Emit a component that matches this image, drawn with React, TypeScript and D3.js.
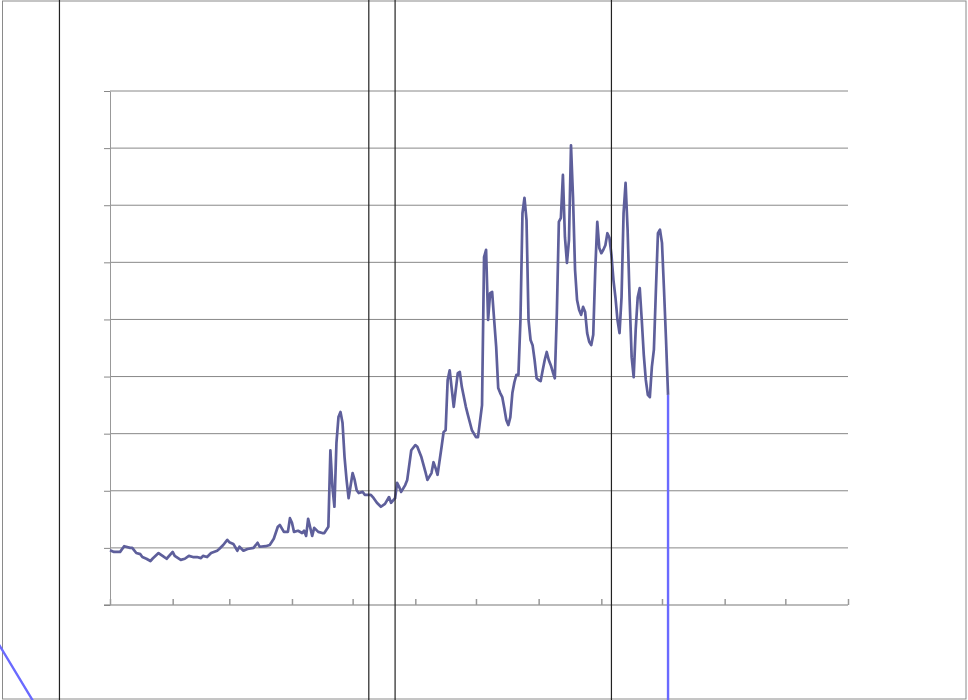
import React, { useEffect, useRef } from 'react';
import * as d3 from 'd3';

// day-of-year offsets (from Jan 1) and readings for the main series
const days = [
  0, 2, 5, 7, 10, 11, 13, 15, 16, 18, 20, 21, 24, 26, 28, 31, 32, 35, 37, 39,
  41, 43, 45, 46, 48, 50, 53, 54, 56, 58, 59, 61, 63, 64, 66, 68, 71, 73, 74, 77,
  79, 81, 83, 84, 86, 88, 89, 90, 91, 93, 95, 96, 97, 98, 100, 101, 103, 105, 106, 108,
  109, 110, 111, 112, 113, 114, 115, 116, 117, 118, 120, 121, 122, 123, 125, 126, 129, 130, 132, 134,
  136, 138, 139, 141, 142, 143, 144, 146, 147, 149, 151, 152, 154, 156, 157, 159, 160, 161, 162, 164,
  165, 166, 167, 168, 170, 172, 173, 174, 176, 177, 179, 181, 182, 184, 185, 186, 187, 188, 189, 190,
  191, 192, 193, 194, 195, 196, 197, 198, 199, 200, 201, 202, 203, 204, 205, 206, 207, 208, 209, 210,
  211, 212, 213, 214, 215, 216, 217, 218, 219, 220, 221, 222, 223, 224, 225, 226, 227, 228, 229, 230,
  231, 232, 233, 234, 235, 236, 237, 238, 239, 240, 241, 242, 243, 244, 245, 246, 247, 248, 249, 250,
  251, 252, 253, 254, 255, 256, 257, 258, 259, 260, 261, 262, 263, 264, 265, 266, 267, 268, 269, 270,
  271, 272, 273, 274, 275, 276,
];
const values = [
  9.6, 9.3, 9.3, 10.3, 10.0, 10.0, 9.1, 8.9, 8.4, 8.1, 7.7, 8.1, 9.1, 8.6, 8.1, 9.3, 8.6, 7.9, 8.1, 8.6,
  8.4, 8.4, 8.2, 8.6, 8.4, 9.1, 9.5, 9.8, 10.5, 11.4, 11.0, 10.7, 9.5, 10.2, 9.5, 9.8, 10.0, 10.9, 10.2, 10.3,
  10.5, 11.6, 13.7, 14.0, 12.8, 12.8, 15.2, 14.4, 12.8, 13.0, 12.6, 13.0, 12.1, 15.1, 12.1, 13.5, 12.8, 12.6, 12.6, 13.7,
  27.1, 20.7, 17.2, 28.4, 32.9, 33.8, 31.9, 25.9, 21.9, 18.7, 23.1, 21.9, 20.1, 19.6, 19.8, 19.3, 19.3, 18.9, 17.9, 17.2,
  17.7, 18.9, 17.9, 18.7, 21.4, 20.7, 19.8, 21.0, 21.9, 27.1, 28.0, 27.7, 25.9, 23.3, 21.9, 23.1, 25.0, 24.0, 22.8, 27.7,
  30.3, 30.6, 39.4, 41.1, 34.7, 40.6, 40.8, 38.2, 34.7, 33.3, 30.6, 29.4, 29.4, 35.0, 60.9, 62.2, 49.9, 54.6, 54.8, 49.9,
  45.2, 38.0, 37.1, 36.4, 34.5, 32.4, 31.5, 32.9, 37.1, 39.0, 40.3, 40.3, 49.9, 68.6, 71.3, 67.4, 49.9, 46.4, 45.5, 42.9,
  39.7, 39.4, 39.2, 41.1, 42.9, 44.3, 42.9, 42.0, 40.8, 39.7, 51.1, 67.1, 67.8, 75.3, 64.4, 59.9, 63.9, 80.5, 71.4, 58.7,
  53.4, 51.7, 50.8, 52.2, 51.3, 47.6, 46.1, 45.5, 47.3, 58.7, 67.1, 62.5, 61.6, 62.2, 63.0, 65.1, 64.3, 61.3, 56.9, 53.8,
  49.9, 47.6, 53.9, 68.6, 73.9, 65.7, 53.4, 43.4, 39.9, 48.2, 53.9, 55.5, 49.9, 43.8, 39.4, 36.8, 36.4, 41.7, 44.7, 55.2,
  65.1, 65.7, 63.4, 55.2, 46.4, 36.8,
];

// stray blue segment
const blueDays = [276, 276, -153];
const blueValues = [36.8, -201, 50.6];

// vertical event markers
const markerDays = [-25, 128, 141, 248];

const yTicks = [0, 10, 20, 30, 40, 50, 60, 70, 80, 90];

const year0 = new Date(2021, 0, 1);
const toDate = (d: number) => d3.timeDay.offset(year0, d);

const W = 968;
const H = 700;

const App: React.FC = () => {
  const xAxisRef = useRef<SVGGElement>(null);
  const yAxisRef = useRef<SVGGElement>(null);

  const x = d3.scaleTime().domain([year0, new Date(2022, 0, 1)]).range([110, 848]);
  const y = d3.scaleLinear().domain([0, 90]).range([605, 91]);

  const main = days.map((d, i) => ({ date: toDate(d), v: values[i] }));
  const blue = blueDays.map((d, i) => ({ date: toDate(d), v: blueValues[i] }));

  const line = d3.line<{ date: Date; v: number }>()
    .x(d => x(d.date))
    .y(d => y(d.v));

  useEffect(() => {
    if (!xAxisRef.current || !yAxisRef.current) return;
    d3.select(xAxisRef.current)
      .call(d3.axisBottom(x).ticks(d3.timeMonth.every(1)).tickSize(-6).tickSizeOuter(0).tickFormat(() => ''))
      .call(g => g.select('.domain').remove())
      .call(g => g.selectAll('line').attr('stroke', '#999').attr('stroke-width', 1.5));
    d3.select(yAxisRef.current)
      .call(d3.axisLeft(y).tickValues(yTicks).tickSize(6).tickSizeOuter(0).tickFormat(() => ''))
      .call(g => g.select('.domain').attr('stroke', '#999'))
      .call(g => g.selectAll('line').attr('stroke', '#888'));
  }, []);

  return (
    <div style={{ position: 'fixed', left: 0, top: 0 }}>
      <svg width={W} height={H} style={{ display: 'block', background: '#fff' }}>
        <rect x={2.5} y={1} width={963.5} height={698} fill="none" stroke="#8a8a8a" strokeWidth={1} />

        {/* grid */}
        <g>
          {yTicks.slice(1).map(t => (
            <line key={t} x1={110} x2={848} y1={y(t)} y2={y(t)} stroke="#888" strokeWidth={1} />
          ))}
        </g>

        <line x1={104} x2={848} y1={y(0)} y2={y(0)} stroke="#bbb" strokeWidth={2} />
        <g ref={xAxisRef} transform={`translate(0,${y(0)})`} />
        <g ref={yAxisRef} transform="translate(110,0)" />

        {/* series */}
        <path d={line(blue) || ''} fill="none" stroke="#6a6aff" strokeWidth={2.4} />
        <path d={line(main) || ''} fill="none" stroke="#5e5f9b" strokeWidth={2.7} strokeLinejoin="round" />

        {/* markers */}
        {markerDays.map(d => (
          <line key={d} x1={x(toDate(d))} x2={x(toDate(d))} y1={0} y2={H} stroke="#222" strokeWidth={1.2} />
        ))}
      </svg>
    </div>
  );
};

export default App;
